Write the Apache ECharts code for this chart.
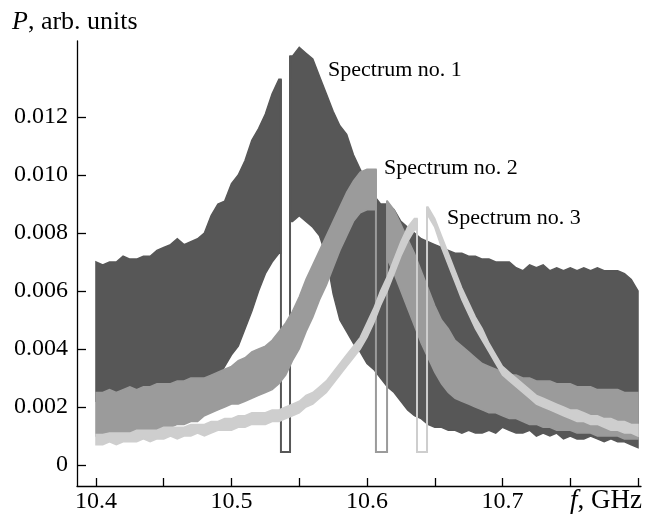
<!DOCTYPE html>
<html>
<head>
<meta charset="utf-8">
<script src="https://cdn.jsdelivr.net/npm/echarts@6/dist/echarts.min.js"></script>
<style>
html, body { margin: 0; padding: 0; background: #fff; }
#chart { width: 647px; height: 521px; }
</style>
</head>
<body>
<div id="chart"></div>
<script>
// frequency grid, GHz
const freq = [
  10.400, 10.405, 10.410, 10.415, 10.420, 10.425, 10.430, 10.435, 10.440, 10.445,
  10.450, 10.455, 10.460, 10.465, 10.470, 10.475, 10.480, 10.485, 10.490, 10.495,
  10.500, 10.505, 10.510, 10.515, 10.520, 10.525, 10.530, 10.535, 10.540, 10.545,
  10.550, 10.555, 10.560, 10.565, 10.570, 10.575, 10.580, 10.585, 10.590, 10.595,
  10.600, 10.605, 10.610, 10.615, 10.620, 10.625, 10.630, 10.635, 10.640, 10.645,
  10.650, 10.655, 10.660, 10.665, 10.670, 10.675, 10.680, 10.685, 10.690, 10.695,
  10.700, 10.705, 10.710, 10.715, 10.720, 10.725, 10.730, 10.735, 10.740, 10.745,
  10.750, 10.755, 10.760, 10.765, 10.770, 10.775, 10.780, 10.785, 10.790, 10.795,
  10.800
];

// spectrum no. 1 (upper / lower envelope of the oscillations)
const spec1Upper = [
  0.0070, 0.0069, 0.0070, 0.0070, 0.0072, 0.0071, 0.0071, 0.0072, 0.0072, 0.0074,
  0.0075, 0.0076, 0.0078, 0.0076, 0.0077, 0.0078, 0.0080, 0.0086, 0.0090, 0.0091,
  0.0097, 0.0100, 0.0105, 0.0112, 0.0116, 0.0121, 0.0128, 0.0133, 0.0140, 0.0141,
  0.0144, 0.0142, 0.0140, 0.0134, 0.0128, 0.0122, 0.0117, 0.0114, 0.0107, 0.0102,
  0.0097, 0.0093, 0.0090, 0.0090, 0.0088, 0.0084, 0.0082, 0.0080, 0.0078, 0.0077,
  0.0076, 0.0075, 0.0074, 0.0073, 0.0073, 0.0072, 0.0072, 0.0071, 0.0071, 0.0070,
  0.0070, 0.0070, 0.0068, 0.0067, 0.0069, 0.0068, 0.0069, 0.0067, 0.0068, 0.0067,
  0.0068, 0.0067, 0.0068, 0.0067, 0.0068, 0.0067, 0.0067, 0.0067, 0.0066, 0.0064,
  0.0060
];
const spec1Lower = [
  0.0022, 0.0022, 0.0022, 0.0023, 0.0023, 0.0023, 0.0024, 0.0024, 0.0024, 0.0025,
  0.0025, 0.0026, 0.0026, 0.0027, 0.0027, 0.0028, 0.0028, 0.0029, 0.0030, 0.0034,
  0.0038, 0.0041, 0.0047, 0.0053, 0.0060, 0.0066, 0.0070, 0.0073, 0.0078, 0.0084,
  0.0086, 0.0084, 0.0082, 0.0079, 0.0072, 0.0059, 0.0050, 0.0046, 0.0042, 0.0039,
  0.0035, 0.0033, 0.0030, 0.0027, 0.0025, 0.0022, 0.0019, 0.0017, 0.0016, 0.0014,
  0.0013, 0.0013, 0.0012, 0.0012, 0.0011, 0.0012, 0.0011, 0.0011, 0.0012, 0.0011,
  0.0013, 0.0012, 0.0011, 0.0011, 0.0012, 0.0010, 0.0011, 0.0010, 0.0011, 0.0009,
  0.0010, 0.0009, 0.0009, 0.0010, 0.0009, 0.0008, 0.0009, 0.0008, 0.0008, 0.0007,
  0.0006
];

// spectrum no. 2
const spec2Upper = [
  0.0025, 0.0025, 0.0026, 0.0025, 0.0026, 0.0027, 0.0026, 0.0027, 0.0027, 0.0028,
  0.0028, 0.0028, 0.0029, 0.0029, 0.0030, 0.0030, 0.0030, 0.0031, 0.0032, 0.0033,
  0.0034, 0.0036, 0.0037, 0.0039, 0.0040, 0.0041, 0.0043, 0.0046, 0.0049, 0.0053,
  0.0058, 0.0064, 0.0069, 0.0074, 0.0079, 0.0084, 0.0089, 0.0094, 0.0098, 0.0101,
  0.0102, 0.0102, 0.0100, 0.0091, 0.0088, 0.0083, 0.0078, 0.0073, 0.0067, 0.0061,
  0.0055, 0.0050, 0.0047, 0.0043, 0.0041, 0.0039, 0.0037, 0.0035, 0.0034, 0.0033,
  0.0032, 0.0031, 0.0031, 0.0030, 0.0030, 0.0029, 0.0029, 0.0029, 0.0028, 0.0028,
  0.0028, 0.0027, 0.0027, 0.0027, 0.0026, 0.0026, 0.0026, 0.0026, 0.0025, 0.0025,
  0.0025
];
const spec2Lower = [
  0.0010, 0.0010, 0.0010, 0.0010, 0.0011, 0.0011, 0.0011, 0.0011, 0.0012, 0.0012,
  0.0013, 0.0013, 0.0014, 0.0014, 0.0015, 0.0015, 0.0017, 0.0018, 0.0019, 0.0020,
  0.0021, 0.0021, 0.0022, 0.0023, 0.0024, 0.0025, 0.0026, 0.0028, 0.0031, 0.0036,
  0.0040, 0.0046, 0.0051, 0.0057, 0.0062, 0.0068, 0.0074, 0.0079, 0.0084, 0.0087,
  0.0088, 0.0088, 0.0085, 0.0071, 0.0066, 0.0060, 0.0054, 0.0048, 0.0042, 0.0037,
  0.0032, 0.0028, 0.0025, 0.0023, 0.0022, 0.0021, 0.0020, 0.0019, 0.0018, 0.0018,
  0.0017, 0.0016, 0.0016, 0.0015, 0.0014, 0.0014, 0.0013, 0.0013, 0.0012, 0.0012,
  0.0012, 0.0011, 0.0011, 0.0011, 0.0010, 0.0010, 0.0010, 0.0010, 0.0009, 0.0009,
  0.0009
];

// spectrum no. 3
const spec3Upper = [
  0.00105, 0.00105, 0.0011, 0.0011, 0.0011, 0.0011, 0.0012, 0.0012, 0.0012, 0.0012,
  0.0013, 0.0013, 0.0013, 0.0013, 0.0014, 0.0014, 0.0014, 0.0015, 0.0015, 0.0016,
  0.0016, 0.0017, 0.0017, 0.0018, 0.0018, 0.0018, 0.0019, 0.0019, 0.0020, 0.0021,
  0.0022, 0.0024, 0.0025, 0.0027, 0.0029, 0.0032, 0.0035, 0.0038, 0.0041, 0.0044,
  0.0049, 0.0054, 0.0060, 0.0065, 0.0071, 0.0077, 0.0082, 0.0085, 0.0087, 0.0089,
  0.0085, 0.0079, 0.0073, 0.0067, 0.0061, 0.0056, 0.0051, 0.0047, 0.0042, 0.0038,
  0.0034, 0.0032, 0.0030, 0.0028, 0.0026, 0.0024, 0.0023, 0.0022, 0.0021, 0.0020,
  0.0019, 0.0019, 0.0018, 0.0017, 0.0017, 0.0016, 0.0016, 0.0015, 0.0015, 0.0014,
  0.0014
];
const spec3Lower = [
  0.0007, 0.0007, 0.0008, 0.0007, 0.0008, 0.0008, 0.0008, 0.0009, 0.0008, 0.0009,
  0.0009, 0.0010, 0.0009, 0.0010, 0.0010, 0.0011, 0.0010, 0.0011, 0.0012, 0.0012,
  0.0012, 0.0013, 0.0013, 0.0014, 0.0014, 0.0014, 0.0015, 0.0015, 0.0016, 0.0017,
  0.0018, 0.0020, 0.0021, 0.0023, 0.0025, 0.0028, 0.0031, 0.0034, 0.0037, 0.0040,
  0.0044, 0.0049, 0.0055, 0.0060, 0.0066, 0.0072, 0.0077, 0.0081, 0.0084, 0.0086,
  0.0082, 0.0075, 0.0069, 0.0063, 0.0057, 0.0052, 0.0047, 0.0043, 0.0039, 0.0035,
  0.0031, 0.0029, 0.0027, 0.0025, 0.0023, 0.0021, 0.0020, 0.0019, 0.0018, 0.0017,
  0.0016, 0.0015, 0.0015, 0.0014, 0.0014, 0.0013, 0.0012, 0.0012, 0.0011, 0.0011,
  0.0010
];

// narrow gaps (notches) in each spectrum, GHz, and the level they drop to
const notch1 = [10.5365, 10.5432];
const notch2 = [10.6066, 10.6148];
const notch3 = [10.6369, 10.6443];
const notchFloor = 0.00045;

const xTicks = [10.4, 10.45, 10.5, 10.55, 10.6, 10.65, 10.7, 10.75, 10.8];
const xLabels = [10.4, 10.5, 10.6, 10.7];
const yTicks = [0, 0.002, 0.004, 0.006, 0.008, 0.010, 0.012];

const spectra = [
  { name: 'Spectrum no. 1', upper: spec1Upper, lower: spec1Lower, notch: notch1, color: '#575757' },
  { name: 'Spectrum no. 2', upper: spec2Upper, lower: spec2Lower, notch: notch2, color: '#9b9b9b' },
  { name: 'Spectrum no. 3', upper: spec3Upper, lower: spec3Lower, notch: notch3, color: '#cecece' }
];

const FONT = '"Liberation Serif", "Times New Roman", serif';

function bandSeries(s) {
  return {
    type: 'custom',
    name: s.name,
    coordinateSystem: 'cartesian2d',
    silent: true,
    clip: true,
    data: [[freq[0], s.upper[0]]],
    renderItem: function (params, api) {
      const left = [], right = [];
      freq.forEach(function (f, i) {
        if (f < s.notch[0]) left.push([f, s.upper[i], s.lower[i]]);
        else if (f > s.notch[1]) right.push([f, s.upper[i], s.lower[i]]);
      });
      const lastL = left[left.length - 1];
      const firstR = right[0];
      left.push([s.notch[0], lastL[1], lastL[2]]);
      right.unshift([s.notch[1], firstR[1], firstR[2]]);

      const children = [left, right].map(function (seg) {
        const top = seg.map(function (p) { return api.coord([p[0], p[1]]); });
        const bot = seg.map(function (p) { return api.coord([p[0], p[2]]); }).reverse();
        return {
          type: 'polygon',
          shape: { points: top.concat(bot) },
          style: { fill: s.color, stroke: s.color, lineWidth: 1.5 }
        };
      });
      children.push({
        type: 'polyline',
        shape: {
          points: [
            api.coord([s.notch[0], lastL[1]]),
            api.coord([s.notch[0], notchFloor]),
            api.coord([s.notch[1], notchFloor]),
            api.coord([s.notch[1], firstR[1]])
          ]
        },
        style: { fill: null, stroke: s.color, lineWidth: 2 }
      });
      return { type: 'group', children: children };
    }
  };
}

const chart = echarts.init(document.getElementById('chart'));
chart.setOption({
  animation: false,
  backgroundColor: '#fff',
  grid: { left: 77, right: 6, top: 41, bottom: 35, containLabel: false, outerBoundsMode: 'none' },
  xAxis: {
    type: 'value',
    min: 10.386,
    max: 10.8022,
    axisLine: { onZero: false, lineStyle: { color: '#000', width: 1.3 } },
    axisTick: { inside: true, length: 8, customValues: xTicks, lineStyle: { color: '#000', width: 1.3 } },
    axisLabel: {
      customValues: xLabels,
      formatter: function (v) { return v.toFixed(1); },
      fontFamily: FONT, fontSize: 24, color: '#000', margin: 4
    },
    splitLine: { show: false }
  },
  yAxis: {
    type: 'value',
    min: -0.000724,
    max: 0.014621,
    axisLine: { show: true, lineStyle: { color: '#000', width: 1.3 } },
    axisTick: { show: true, inside: true, length: 9, customValues: yTicks, lineStyle: { color: '#000', width: 1.3 } },
    axisLabel: {
      customValues: yTicks,
      formatter: function (v) { return v === 0 ? '0' : v.toFixed(3); },
      fontFamily: FONT, fontSize: 24, color: '#000', margin: 9
    },
    splitLine: { show: false }
  },
  graphic: [
    {
      type: 'text', left: 12, top: 9,
      style: {
        text: '{i|P}, arb. units',
        font: '26px ' + FONT, fill: '#000',
        rich: { i: { fontStyle: 'italic', fontFamily: FONT, fontSize: 26, fill: '#000' } }
      }
    },
    {
      type: 'text', right: 5, top: 487,
      style: {
        text: '{i|f}, GHz',
        font: '27px ' + FONT, fill: '#000',
        rich: { i: { fontStyle: 'italic', fontFamily: FONT, fontSize: 27, fill: '#000' } }
      }
    },
    { type: 'text', left: 328, top: 59, style: { text: spectra[0].name, font: '22px ' + FONT, fill: '#000' } },
    { type: 'text', left: 384, top: 157, style: { text: spectra[1].name, font: '22px ' + FONT, fill: '#000' } },
    { type: 'text', left: 447, top: 207, style: { text: spectra[2].name, font: '22px ' + FONT, fill: '#000' } }
  ],
  series: spectra.map(bandSeries)
});
</script>
</body>
</html>
